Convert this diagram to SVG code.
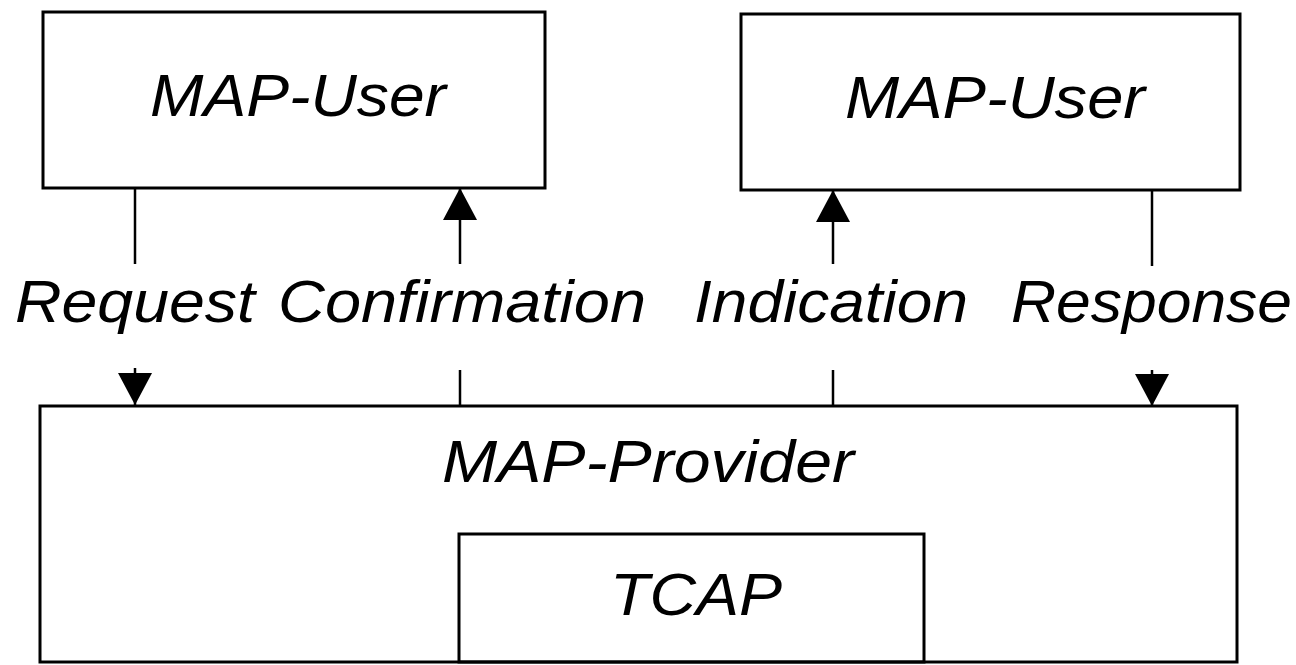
<svg xmlns="http://www.w3.org/2000/svg" width="1296" height="665" viewBox="0 0 1296 665">
<style>
.box{fill:none;stroke:#000;stroke-width:3}
.lbl{font-family:"Liberation Sans",Arial,sans-serif;font-style:italic;font-size:60px;fill:#000}
.ln{stroke:#000;stroke-width:2.5;fill:none}
</style>
<defs>
<marker id="ah" markerUnits="userSpaceOnUse" markerWidth="34" markerHeight="34" viewBox="0 0 32 34" refX="32" refY="17" orient="auto">
<path d="M0,0 L32,17 L0,34 z" fill="#000"/>
</marker>
</defs>
<rect width="1296" height="665" fill="#fff"/>
<g id="user-left">
<rect class="box" x="43" y="12" width="502" height="176"/>
<text class="lbl" x="150" y="116" textLength="296" lengthAdjust="spacingAndGlyphs">MAP-User</text>
</g>
<g id="user-right">
<rect class="box" x="741" y="14" width="499" height="176"/>
<text class="lbl" x="845" y="118" textLength="300" lengthAdjust="spacingAndGlyphs">MAP-User</text>
</g>
<g id="provider">
<rect class="box" x="40" y="406" width="1197" height="256"/>
<text class="lbl" x="442" y="482" textLength="412" lengthAdjust="spacingAndGlyphs">MAP-Provider</text>
</g>
<g id="tcap">
<rect class="box" x="459" y="534" width="465" height="128"/>
<text class="lbl" x="610" y="615" textLength="172" lengthAdjust="spacingAndGlyphs">TCAP</text>
</g>
<g id="labels">
<text class="lbl" x="15" y="322" textLength="240" lengthAdjust="spacingAndGlyphs">Request</text>
<text class="lbl" x="278" y="322" textLength="368" lengthAdjust="spacingAndGlyphs">Confirmation</text>
<text class="lbl" x="694" y="322" textLength="274" lengthAdjust="spacingAndGlyphs">Indication</text>
<text class="lbl" x="1011" y="322" textLength="281" lengthAdjust="spacingAndGlyphs">Response</text>
</g>
<g id="connectors">
<line class="ln" x1="135" y1="188" x2="135" y2="264"/>
<line class="ln" x1="135" y1="368" x2="135" y2="405" marker-end="url(#ah)"/>
<line class="ln" x1="460" y1="406" x2="460" y2="370"/>
<line class="ln" x1="460" y1="264" x2="460" y2="188" marker-end="url(#ah)"/>
<line class="ln" x1="833" y1="406" x2="833" y2="370"/>
<line class="ln" x1="833" y1="264" x2="833" y2="190" marker-end="url(#ah)"/>
<line class="ln" x1="1152" y1="190" x2="1152" y2="266"/>
<line class="ln" x1="1152" y1="370" x2="1152" y2="406" marker-end="url(#ah)"/>
</g>
</svg>
